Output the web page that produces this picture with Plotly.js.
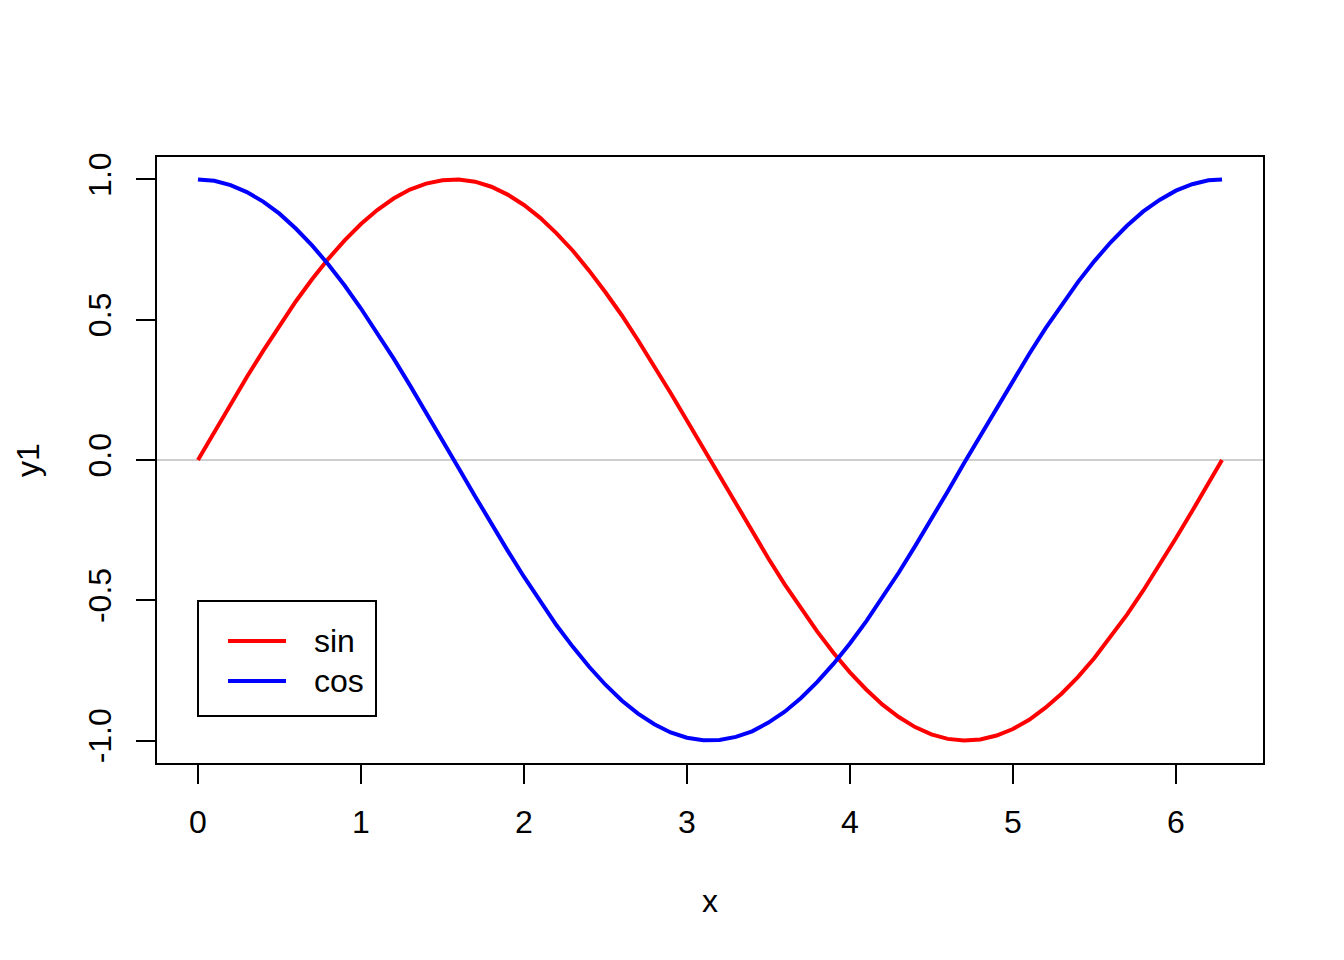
<!DOCTYPE html>
<html>
<head>
<meta charset="utf-8">
<script src="https://cdn.plot.ly/plotly-3.0.1.min.js"></script>
<style>html,body{margin:0;padding:0;background:#fff;}#chart{width:1344px;height:960px;}</style>
</head>
<body>
<div id="chart"></div>
<script>
const xValues = [0.0,0.1,0.2,0.3,0.4,0.5,0.6,0.7,0.8,0.9,1.0,1.1,1.2,1.3,1.4,1.5,1.6,1.7,1.8,1.9,2.0,2.1,2.2,2.3,2.4,2.5,2.6,2.7,2.8,2.9,3.0,3.1,3.2,3.3,3.4,3.5,3.6,3.7,3.8,3.9,4.0,4.1,4.2,4.3,4.4,4.5,4.6,4.7,4.8,4.9,5.0,5.1,5.2,5.3,5.4,5.5,5.6,5.7,5.8,5.9,6.0,6.1,6.2,6.283];
const sinValues = [0.000,0.100,0.199,0.296,0.389,0.479,0.565,0.644,0.717,0.783,0.841,0.891,0.932,0.964,0.985,0.997,1.000,0.992,0.974,0.946,0.909,0.863,0.808,0.746,0.675,0.598,0.516,0.427,0.335,0.239,0.141,0.042,-0.058,-0.158,-0.256,-0.351,-0.443,-0.530,-0.612,-0.688,-0.757,-0.818,-0.872,-0.916,-0.952,-0.978,-0.994,-1.000,-0.996,-0.982,-0.959,-0.926,-0.883,-0.832,-0.773,-0.706,-0.631,-0.551,-0.465,-0.374,-0.279,-0.182,-0.083,0.000];
const cosValues = [1.000,0.995,0.980,0.955,0.921,0.878,0.825,0.765,0.697,0.622,0.540,0.454,0.362,0.267,0.170,0.071,-0.029,-0.129,-0.227,-0.323,-0.416,-0.505,-0.589,-0.666,-0.737,-0.801,-0.857,-0.904,-0.942,-0.971,-0.990,-0.999,-0.998,-0.987,-0.967,-0.936,-0.897,-0.848,-0.791,-0.726,-0.654,-0.575,-0.490,-0.401,-0.307,-0.211,-0.112,-0.012,0.087,0.187,0.284,0.378,0.469,0.554,0.635,0.709,0.776,0.835,0.886,0.927,0.960,0.983,0.997,1.000];
const seriesNames = ["sin", "cos"];
const seriesColors = ["#FF0000", "#0000FF"];
const xTickVals = [0,1,2,3,4,5,6];
const yTickVals = [-1.0,-0.5,0.0,0.5,1.0];
const yTickText = ["-1.0","-0.5","0.0","0.5","1.0"];
const xTitle = "x";
const yTitle = "y1";

const FONT = "Liberation Sans, Arial, sans-serif";
const FS = 32;
const traces = [sinValues, cosValues].map((ys, i) => ({
  x: xValues, y: ys, type: "scatter", mode: "lines", name: seriesNames[i],
  line: {color: seriesColors[i], width: 4}, showlegend: false
}));

const W = 1344, H = 960, L = 157, R = 81, T = 157, B = 197;
const pw = W - L - R, ph = H - T - B;
const px = v => (v - L) / pw;
const py = v => (H - B - v) / ph;

const shapes = [
  {type: "line", xref: "paper", yref: "y", x0: 0, x1: 1, y0: 0, y1: 0, line: {color: "#BEBEBE", width: 1.5}, layer: "below"},
  {type: "rect", xref: "paper", yref: "paper", x0: px(198), x1: px(376), y0: py(716), y1: py(601), line: {color: "#000", width: 2}, fillcolor: "#fff"}
];
const annotations = [
  {text: xTitle, xref: "paper", yref: "paper", x: px(710), y: py(901), showarrow: false, font: {family: FONT, size: FS, color: "#000"}, xanchor: "center", yanchor: "middle"},
  {text: yTitle, xref: "paper", yref: "paper", x: px(28), y: py(460), showarrow: false, textangle: -90, font: {family: FONT, size: FS, color: "#000"}, xanchor: "center", yanchor: "middle"}
];
const legendYs = [641, 681];
seriesNames.forEach((n, i) => {
  shapes.push({type: "line", xref: "paper", yref: "paper", x0: px(228), x1: px(286), y0: py(legendYs[i]), y1: py(legendYs[i]), line: {color: seriesColors[i], width: 4}});
  annotations.push({text: n, xref: "paper", yref: "paper", x: px(312), y: py(legendYs[i]), showarrow: false, xanchor: "left", yanchor: "middle", font: {family: FONT, size: FS, color: "#000"}});
});

const axisCommon = {
  showgrid: false, zeroline: false, showline: true, linecolor: "#000", linewidth: 2, mirror: true,
  ticks: "outside", ticklen: 19, tickwidth: 2, tickcolor: "#000",
  tickfont: {family: FONT, size: FS, color: "#000"}
};
const layout = {
  width: W, height: H,
  margin: {l: L, r: R, t: T, b: B, pad: 0},
  paper_bgcolor: "#fff", plot_bgcolor: "#fff",
  font: {family: FONT, size: FS, color: "#000"},
  xaxis: Object.assign({}, axisCommon, {range: [-0.2513, 6.5345], tickvals: xTickVals, ticktext: xTickVals.map(String), ticklabelstandoff: 11}),
  yaxis: Object.assign({}, axisCommon, {range: [-1.08, 1.08], tickvals: yTickVals, ticktext: yTickText, tickangle: -90, ticklabelstandoff: 12}),
  shapes: shapes,
  annotations: annotations,
  showlegend: false
};
Plotly.newPlot("chart", traces, layout, {staticPlot: true, displayModeBar: false});
</script>
</body>
</html>
